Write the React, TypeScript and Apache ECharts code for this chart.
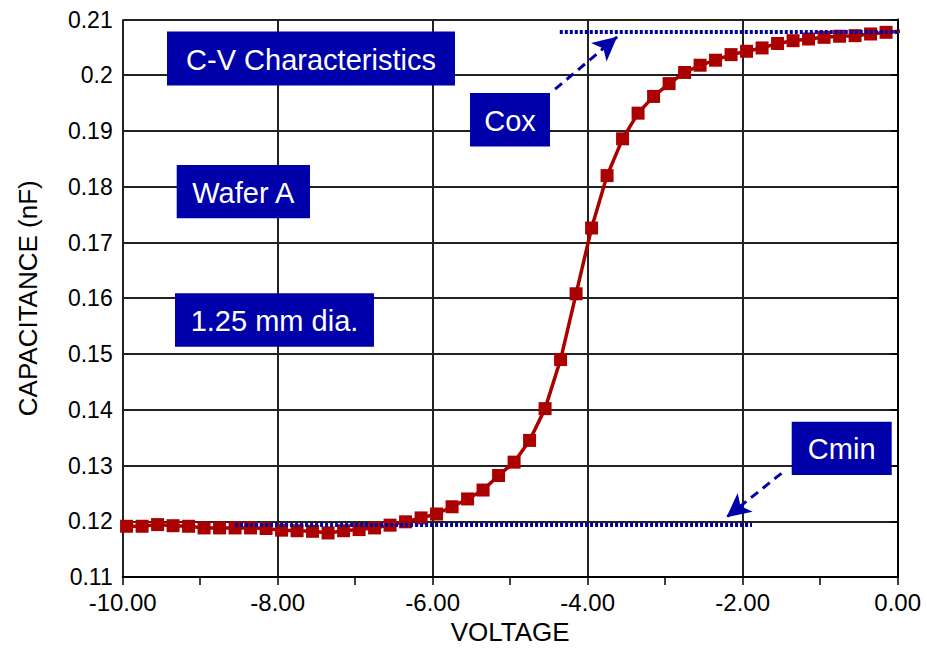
import React, { useEffect, useRef } from "react";
import * as echarts from "echarts";

const voltage = [
  -9.95, -9.75, -9.55, -9.35, -9.15, -8.95, -8.75, -8.55, -8.35, -8.15,
  -7.95, -7.75, -7.55, -7.35, -7.15, -6.95, -6.75, -6.55, -6.35, -6.15,
  -5.95, -5.75, -5.55, -5.35, -5.15, -4.95, -4.75, -4.55, -4.35, -4.15,
  -3.95, -3.75, -3.55, -3.35, -3.15, -2.95, -2.75, -2.55, -2.35, -2.15,
  -1.95, -1.75, -1.55, -1.35, -1.15, -0.95, -0.75, -0.55, -0.35, -0.15,
  0.05,
];
const capacitance = [
  0.1191, 0.1191, 0.1194, 0.1192, 0.1191, 0.1188, 0.1188, 0.1188, 0.1188, 0.1187,
  0.1184, 0.1183, 0.1182, 0.1179, 0.1183, 0.1185, 0.1188, 0.1193, 0.1199, 0.1206,
  0.1213, 0.1226, 0.124, 0.1256, 0.1282, 0.1306, 0.1345, 0.1402, 0.149, 0.1608,
  0.1726, 0.182, 0.1886, 0.1932, 0.1962, 0.1985, 0.2005, 0.2018, 0.2027, 0.2037,
  0.2043, 0.2049, 0.2057, 0.2062, 0.2065, 0.2068, 0.207, 0.2071, 0.2074, 0.2077,
  0.2079,
];

const coxLevel = 0.2078;
const coxRange = [-4.36, 0];
const cminLevel = 0.1194;
const cminRange = [-8.55, -1.88];
const coxArrow = [[-4.42, 0.1975], [-3.62, 0.2069]];
const cminArrow = [[-1.5, 0.1286], [-2.21, 0.1207]];

const boxLabels = ["C-V Characteristics", "Wafer A", "1.25 mm dia.", "Cox", "Cmin"];

const FONT = "'Liberation Sans', Arial, Helvetica, sans-serif";
const BLUE = "#0000AA";
const RED = "#AA0000";

export default function App() {
  const ref = useRef<HTMLDivElement>(null);
  useEffect(() => {
    if (!ref.current) return;
    const chart = echarts.init(ref.current, null, { renderer: "svg" });

    const boxes = [
      { x: 167, y: 31.5, w: 288, h: 54 },
      { x: 176.7, y: 165, w: 133.3, h: 53.3 },
      { x: 175, y: 293.3, w: 199, h: 53.4 },
      { x: 470, y: 93, w: 80, h: 53.5 },
      { x: 791.7, y: 421.7, w: 100, h: 53.3 },
    ];

    const graphic: any[] = [];
    boxes.forEach((b, i) => {
      graphic.push({
        type: "rect",
        z: 100,
        shape: { x: b.x, y: b.y, width: b.w, height: b.h },
        style: { fill: BLUE },
      });
      graphic.push({
        type: "text",
        z: 101,
        x: b.x + b.w / 2,
        y: b.y + b.h / 2 + 1,
        style: {
          text: boxLabels[i],
          fill: "#fff",
          font: `29px ${FONT}`,
          textAlign: "center",
          textVerticalAlign: "middle",
        },
      });
    });

    const option: any = {
      animation: false,
      backgroundColor: "#fff",
      grid: { left: 122.7, right: 29.3, top: 19.5, bottom: 67, containLabel: false },
      xAxis: {
        type: "value",
        min: -10,
        max: 0,
        interval: 2,
        name: "VOLTAGE",
        nameLocation: "middle",
        nameGap: 42,
        nameTextStyle: { fontSize: 26, color: "#000", fontFamily: FONT },
        axisLine: { onZero: false, lineStyle: { color: "#000", width: 2 } },
        axisTick: { show: true, length: 8, lineStyle: { color: "#000", width: 1.5 } },
        minorTick: { show: true, splitNumber: 2, length: 8, lineStyle: { color: "#000", width: 1.5 } },
        axisLabel: {
          formatter: (v: number) => v.toFixed(2),
          fontSize: 24,
          color: "#000",
          fontFamily: FONT,
          margin: 13,
        },
        splitLine: { show: true, lineStyle: { color: "#222", width: 2 } },
      },
      yAxis: {
        type: "value",
        min: 0.11,
        max: 0.21,
        interval: 0.01,
        name: "CAPACITANCE (nF)",
        nameLocation: "middle",
        nameGap: 82,
        nameTextStyle: { fontSize: 26, color: "#000", fontFamily: FONT },
        axisLine: { show: true, lineStyle: { color: "#000", width: 2 } },
        axisTick: { show: true, length: 7, lineStyle: { color: "#000", width: 1.5 } },
        axisLabel: {
          formatter: (v: number) => String(+v.toFixed(2)),
          fontSize: 23,
          color: "#000",
          fontFamily: FONT,
          margin: 10,
        },
        splitLine: { show: true, lineStyle: { color: "#222", width: 2 } },
      },
      series: [
        {
          type: "line",
          data: voltage.map((v, i) => [v, capacitance[i]]),
          symbol: "rect",
          symbolSize: 13,
          showAllSymbol: true,
          itemStyle: { color: RED },
          lineStyle: { color: RED, width: 3.5 },
          clip: true,
          z: 3,
        },
        {
          type: "line",
          data: [],
          z: 5,
          markLine: {
            silent: true,
            animation: false,
            label: { show: false },
            data: [
              [
                { coord: [coxRange[0], coxLevel], symbol: "none", lineStyle: { color: BLUE, width: 4, type: [3, 2] } },
                { coord: [coxRange[1], coxLevel], symbol: "none" },
              ],
              [
                { coord: [cminRange[0], cminLevel], symbol: "none", lineStyle: { color: BLUE, width: 4, type: [3, 2] } },
                { coord: [cminRange[1], cminLevel], symbol: "none" },
              ],
              [
                { coord: coxArrow[0], symbol: "none", lineStyle: { color: BLUE, width: 3, type: [9, 6] } },
                { coord: coxArrow[1], symbol: "arrow", symbolSize: [18, 24] },
              ],
              [
                { coord: cminArrow[0], symbol: "none", lineStyle: { color: BLUE, width: 3, type: [9, 6] } },
                { coord: cminArrow[1], symbol: "arrow", symbolSize: [18, 24] },
              ],
            ],
            itemStyle: { color: BLUE },
          },
        },
      ],
      graphic,
    };
    chart.setOption(option);
    return () => chart.dispose();
  }, []);
  return (
    <div
      ref={ref}
      style={{ position: "absolute", left: 0, top: 0, width: 927, height: 650, background: "#fff" }}
    />
  );
}
